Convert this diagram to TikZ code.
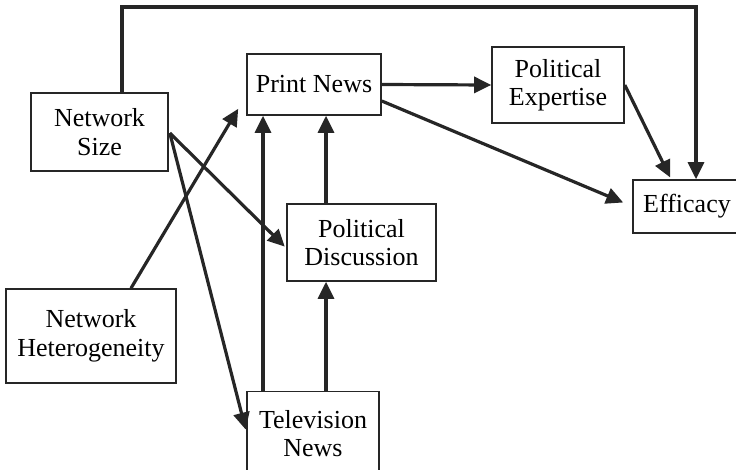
\documentclass[tikz,border=0pt]{standalone}
\usepackage{fontspec}
\setmainfont{Liberation Serif}
\usetikzlibrary{arrows.meta}
\begin{document}
\begin{tikzpicture}[x=1pt,y=-1pt,
  box/.style={draw=black!85,line width=1.6pt,rectangle,inner sep=0pt,align=center,
    font=\fontsize{26}{28.5}\selectfont},
  arr/.style={draw=black!85,line width=3.2pt,-{Triangle[length=17pt,width=16pt]}}]
\useasboundingbox (0,0) rectangle (736,469);
\node[box,minimum width=137pt,minimum height=78pt] (NS) at (99.5,132) {Network\\Size};
\node[box,minimum width=134pt,minimum height=61pt] (PN) at (314,84.5) {Print News};
\node[box,minimum width=132pt,minimum height=76pt] (PE) at (558,85) {Political\\Expertise};
\node[box,minimum width=108pt,minimum height=53pt] (EF) at (687,206.5) {Efficacy};
\node[box,minimum width=149pt,minimum height=77pt] (PD) at (361.5,242.5) {Political\\Discussion};
\node[box,minimum width=170pt,minimum height=94pt] (NH) at (91,336) {Network\\Heterogeneity};
\node[box,minimum width=132pt,minimum height=84pt] (TV) at (313,433.5) {Television\\News};
\coordinate (t1) at (122,7);
\coordinate (t2) at (696,7);
\coordinate (c1) at (326,0);
\coordinate (c2) at (263,0);
\draw[arr,line join=miter] (NS.north -| t1) -- (t1) -- (t2) -- (t2 |- EF.north);
\draw[arr] (PN.east) -- (PE.west);
\draw[arr] ([yshift=-16.5pt]PN.east) -- ([xshift=-9pt,yshift=4pt]EF.west);
\draw[arr,shorten >=2pt] (PE.east) -- ([xshift=-16pt]EF.north);
\draw[arr] (PD.north -| c1) -- (PN.south -| c1);
\draw[arr] (TV.north -| c1) -- (PD.south -| c1);
\draw[arr] (TV.north -| c2) -- (PN.south -| c2);
\draw[arr,shorten >=2pt] ([xshift=1pt,yshift=-1pt]NS.east) -- ([yshift=-5.5pt]PD.west);
\draw[arr,shorten >=2pt] ([xshift=1pt,yshift=-1pt]NS.east) -- ([yshift=2pt]TV.west);
\draw[arr] ([xshift=40pt]NH.north) -- ([xshift=-8pt,yshift=7pt]PN.south west);
\end{tikzpicture}
\end{document}
